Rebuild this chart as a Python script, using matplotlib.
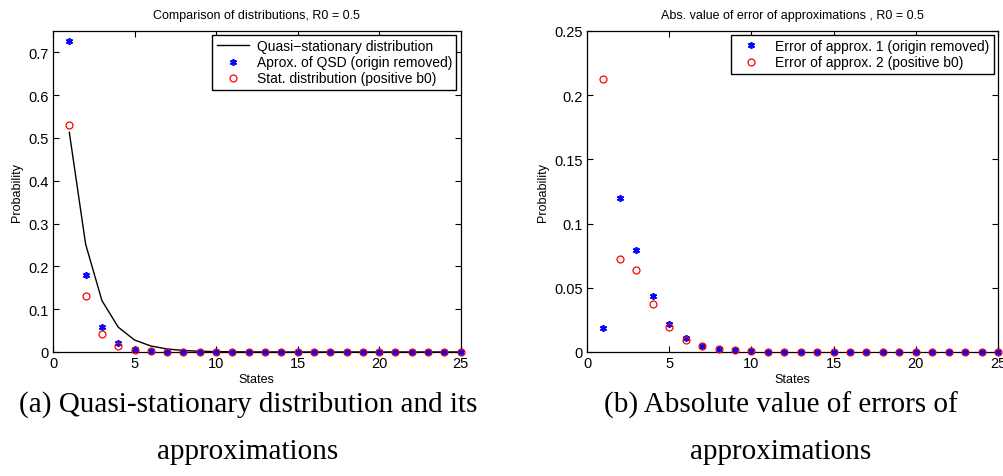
import numpy as np
import matplotlib
matplotlib.use("Agg")
import matplotlib.pyplot as plt

states = list(range(1, 26))
qsd = [0.513, 0.252, 0.120, 0.058, 0.028, 0.014, 0.007, 0.0035, 0.0017, 0.0008,
       0.0004, 0.0002, 0.0001, 0.00005, 0.00002, 0.00001, 0, 0, 0, 0, 0, 0, 0, 0, 0]
approx_origin = [0.7256, 0.1787, 0.0575, 0.0218, 0.0075, 0.0025, 0.0008, 0.0003, 0.0001, 0,
                 0, 0, 0, 0, 0, 0, 0, 0, 0, 0, 0, 0, 0, 0, 0]
stat_b0 = [0.5314, 0.131, 0.042, 0.014, 0.005, 0.0015, 0.0005, 0.0002, 0.0001, 0,
           0, 0, 0, 0, 0, 0, 0, 0, 0, 0, 0, 0, 0, 0, 0]
err1 = [0.0187, 0.120, 0.0794, 0.0434, 0.022, 0.0109, 0.005, 0.0026, 0.0013, 0.0006,
        0.0003, 0.00015, 0.0001, 0.00005, 0, 0, 0, 0, 0, 0, 0, 0, 0, 0, 0]
err2 = [0.2126, 0.0722, 0.0636, 0.0374, 0.0195, 0.0096, 0.0047, 0.0023, 0.0012, 0.0006,
        0.0003, 0.00015, 0.0001, 0.00005, 0, 0, 0, 0, 0, 0, 0, 0, 0, 0, 0]

plt.rcParams['font.family'] = ['Liberation Sans', 'DejaVu Sans']

fig = plt.figure(figsize=(10.04, 4.77), dpi=100)
ax1 = fig.add_axes([0.0528, 0.260, 0.406, 0.673])
ax2 = fig.add_axes([0.5847, 0.260, 0.4093, 0.673])

STAR = (6, 2, 0)

def style(ax, ylim, yticks, yticklabels):
    ax.set_xlim(0, 25)
    ax.set_ylim(*ylim)
    ax.set_xticks([0, 5, 10, 15, 20, 25])
    ax.set_yticks(yticks)
    ax.set_yticklabels(yticklabels)
    ax.tick_params(direction='in', top=True, right=True, labelsize=10.5, length=4,
                   width=0.8, pad=3)
    for s in ax.spines.values():
        s.set_linewidth(0.9)
    ax.set_xlabel('States', fontsize=9, labelpad=2)
    ax.set_ylabel('Probability', fontsize=9, labelpad=4)

ax1.plot(states, qsd, '-', color='black', lw=1.0, label='Quasi\u2212stationary distribution')
ax1.plot(states, approx_origin, marker=STAR, color='blue', ms=5, mew=1.2, ls='none',
         label='Aprox. of QSD (origin removed)', clip_on=False, zorder=3)
ax1.plot(states, stat_b0, 'o', mfc='none', mec='red', ms=5, mew=0.9, ls='none',
         label='Stat. distribution (positive b0)', clip_on=False, zorder=3)
style(ax1, (0, 0.75), [0, 0.1, 0.2, 0.3, 0.4, 0.5, 0.6, 0.7],
      ['0', '0.1', '0.2', '0.3', '0.4', '0.5', '0.6', '0.7'])
ax1.set_title('Comparison of distributions, R0 = 0.5', fontsize=9, pad=9)
leg1 = ax1.legend(loc='upper right', fontsize=10, frameon=True, fancybox=False,
                  edgecolor='black', framealpha=1, borderpad=0.3, labelspacing=0.15,
                  handlelength=2.3, handletextpad=0.6, borderaxespad=0.3)
leg1.get_frame().set_linewidth(1.0)

ax2.plot(states, err1, marker=STAR, color='blue', ms=5, mew=1.2, ls='none',
         label='Error of approx. 1 (origin removed)', clip_on=False, zorder=3)
ax2.plot(states, err2, 'o', mfc='none', mec='red', ms=5, mew=0.9, ls='none',
         label='Error of approx. 2 (positive b0)', clip_on=False, zorder=3)
style(ax2, (0, 0.25), [0, 0.05, 0.1, 0.15, 0.2, 0.25],
      ['0', '0.05', '0.1', '0.15', '0.2', '0.25'])
ax2.set_title('Abs. value of error of approximations , R0 = 0.5', fontsize=9, pad=9)
leg2 = ax2.legend(loc='upper right', fontsize=10, frameon=True, fancybox=False,
                  edgecolor='black', framealpha=1, borderpad=0.3, labelspacing=0.15,
                  handlelength=2.3, handletextpad=0.6, borderaxespad=0.3)
leg2.get_frame().set_linewidth(1.0)

cap_font = ['Liberation Serif', 'DejaVu Serif']
caps = [(0.247, '(a) Quasi-stationary distribution and its', 'approximations'),
        (0.778, '(b) Absolute value of errors of', 'approximations')]
for xc, l1, l2 in caps:
    fig.text(xc, 1 - 405 / 477, l1, ha='center', va='center', fontsize=21, family=cap_font)
    fig.text(xc, 1 - 452 / 477, l2, ha='center', va='center', fontsize=21, family=cap_font)

fig.savefig('out.png', dpi=100)
